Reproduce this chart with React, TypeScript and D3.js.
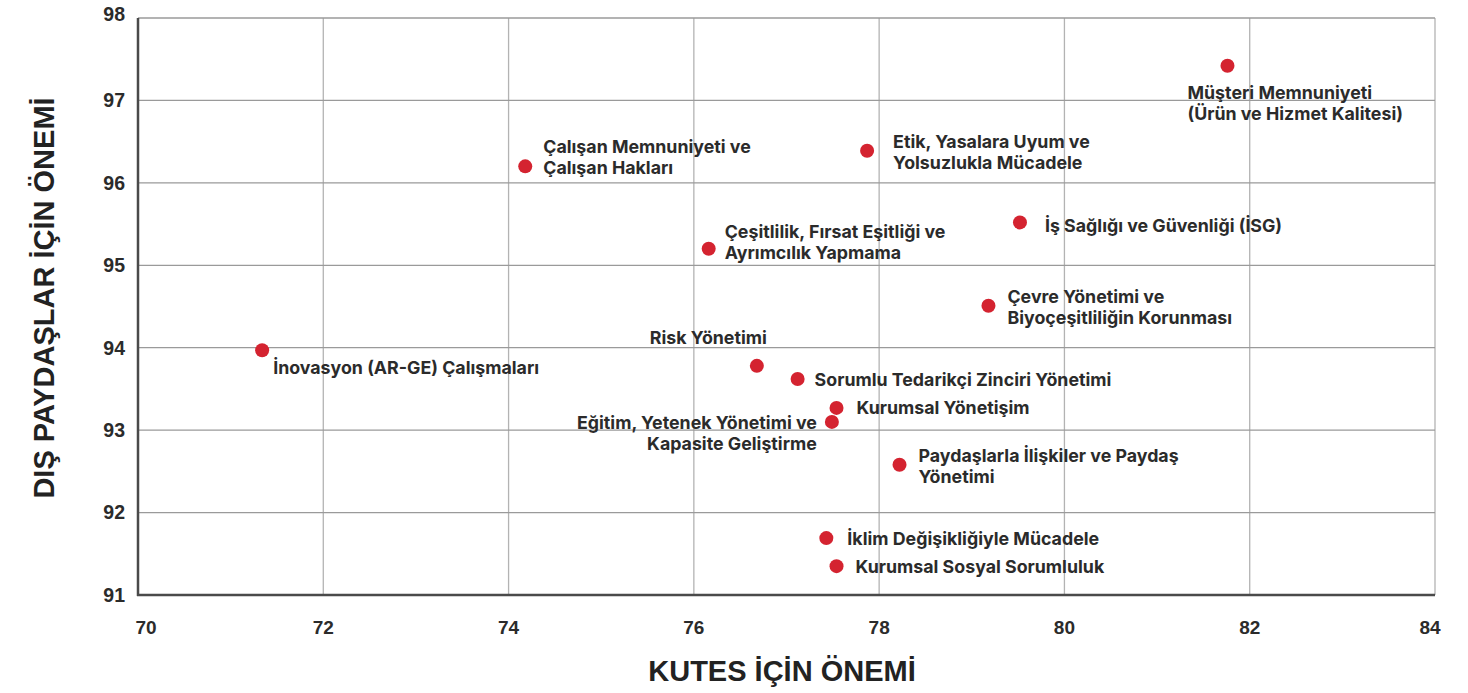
import React from "react";
import * as d3 from "d3";

const topics: string[] = [
  "Müşteri Memnuniyeti\n(Ürün ve Hizmet Kalitesi)",
  "Etik, Yasalara Uyum ve\nYolsuzlukla Mücadele",
  "Çalışan Memnuniyeti ve\nÇalışan Hakları",
  "İş Sağlığı ve Güvenliği (İSG)",
  "Çeşitlilik, Fırsat Eşitliği ve\nAyrımcılık Yapmama",
  "Çevre Yönetimi ve\nBiyoçeşitliliğin Korunması",
  "İnovasyon (AR-GE) Çalışmaları",
  "Risk Yönetimi",
  "Sorumlu Tedarikçi Zinciri Yönetimi",
  "Kurumsal Yönetişim",
  "Eğitim, Yetenek Yönetimi ve\nKapasite Geliştirme",
  "Paydaşlarla İlişkiler ve Paydaş\nYönetimi",
  "İklim Değişikliğiyle Mücadele",
  "Kurumsal Sosyal Sorumluluk",
];
const kutesValues: number[] = [81.76, 77.87, 74.18, 79.52, 76.16, 79.18, 71.34, 76.68, 77.12, 77.54, 77.49, 78.22, 77.43, 77.54];
const externalValues: number[] = [97.42, 96.39, 96.2, 95.52, 95.2, 94.51, 93.97, 93.78, 93.62, 93.27, 93.1, 92.58, 91.69, 91.35];

const xTicks: number[] = [70, 72, 74, 76, 78, 80, 82, 84];
const yTicks: number[] = [91, 92, 93, 94, 95, 96, 97, 98];

const xTitle = "KUTES İÇİN ÖNEMİ";
const yTitle = "DIŞ PAYDAŞLAR İÇİN ÖNEMİ";

// label placement (layout only): dx, dy of first line relative to dot, anchor
const labelLayout: { dx: number; dy: number; anchor: "start" | "end" | "middle" }[] = [
  { dx: -40, dy: 27, anchor: "start" },
  { dx: 26, dy: -9, anchor: "start" },
  { dx: 18, dy: -20, anchor: "start" },
  { dx: 25, dy: 3, anchor: "start" },
  { dx: 16, dy: -17, anchor: "start" },
  { dx: 19, dy: -9, anchor: "start" },
  { dx: 11, dy: 18, anchor: "start" },
  { dx: 10, dy: -28, anchor: "end" },
  { dx: 17, dy: 1, anchor: "start" },
  { dx: 20, dy: 0, anchor: "start" },
  { dx: -15, dy: 1, anchor: "end" },
  { dx: 19, dy: -9, anchor: "start" },
  { dx: 21, dy: 1, anchor: "start" },
  { dx: 19, dy: 1, anchor: "start" },
];

const W = 1468;
const H = 693;
const left = 138;
const right = 1435;
const top = 18;
const bottom = 595;

export default function App() {
  const x = d3.scaleLinear().domain([70, 84]).range([left, right]);
  const y = d3.scaleLinear().domain([91, 98]).range([bottom, top]);
  const labelFont = "Inter, 'Noto Sans', sans-serif";
  const axisFont = "'Liberation Sans', Arial, sans-serif";
  const textColor = "#2b2b2b";

  return (
    <div style={{ position: "absolute", left: 0, top: 0 }}>
      <svg width={W} height={H} style={{ display: "block", background: "#fff" }}>
        {/* grid */}
        {xTicks.map((t) => (
          <line key={"gx" + t} x1={x(t)} x2={x(t)} y1={y(98)} y2={bottom} stroke="#b3b3b3" strokeWidth={1.3} />
        ))}
        {yTicks.map((t) => (
          <line key={"gy" + t} x1={left} x2={right} y1={y(t)} y2={y(t)} stroke="#9a9a9a" strokeWidth={1.3} />
        ))}
        {/* axes */}
        <line x1={left} x2={left} y1={y(98)} y2={bottom + 1} stroke="#4a4a4a" strokeWidth={2.5} />
        <line x1={left - 1} x2={right} y1={bottom} y2={bottom} stroke="#4a4a4a" strokeWidth={2.5} />
        {/* tick labels */}
        {xTicks.map((t, i) => (
          <text
            key={"tx" + t}
            x={x(t) + (i === 0 ? 8 : i === xTicks.length - 1 ? -5 : 0)}
            y={634}
            textAnchor="middle"
            fontFamily={axisFont}
            fontWeight={700}
            fontSize={19}
            fill={textColor}
          >
            {t}
          </text>
        ))}
        {yTicks.map((t) => (
          <text
            key={"ty" + t}
            x={125}
            y={y(t) + (t === 98 ? -4 : 0)}
            dy="0.35em"
            textAnchor="end"
            fontFamily={axisFont}
            fontWeight={700}
            fontSize={19.5}
            fill={textColor}
          >
            {t}
          </text>
        ))}
        {/* axis titles */}
        <text x={782} y={681} textAnchor="middle" fontFamily={axisFont} fontWeight={700} fontSize={29} fill="#222">
          {xTitle}
        </text>
        <text
          transform={`translate(54, ${298}) rotate(-90)`}
          textAnchor="middle"
          fontFamily={axisFont}
          fontWeight={700}
          fontSize={29}
          fill="#222"
        >
          {yTitle}
        </text>
        {/* points */}
        {topics.map((name, i) => {
          const cx = x(kutesValues[i]);
          const cy = y(externalValues[i]);
          const lay = labelLayout[i];
          const lines = name.split("\n");
          return (
            <g key={name}>
              <circle cx={cx} cy={cy} r={7} fill="#d42330" />
              <text
                x={cx + lay.dx}
                y={cy + lay.dy}
                textAnchor={lay.anchor}
                fontFamily={labelFont}
                fontWeight={700}
                fontSize={17.8}
                fill={textColor}
              >
                {lines.map((ln, j) => (
                  <tspan key={j} x={cx + lay.dx} dy={j === 0 ? "0.35em" : 21}>
                    {ln}
                  </tspan>
                ))}
              </text>
            </g>
          );
        })}
      </svg>
    </div>
  );
}
